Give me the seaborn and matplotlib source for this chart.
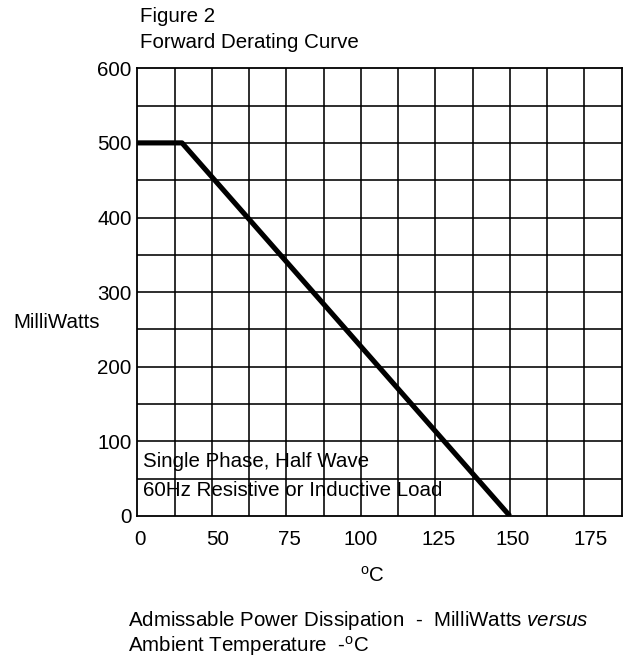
import matplotlib
matplotlib.use("Agg")
import matplotlib.pyplot as plt
import seaborn as sns
import numpy as np
import pandas as pd

# derating curve
temp_c = [25, 40, 150]
milliwatts = [500, 500, 0]

x_tick_pos = [26, 52, 76, 100, 126, 151, 177]
x_tick_labels = ["0", "50", "75", "100", "125", "150", "175"]
y_ticks = [0, 100, 200, 300, 400, 500, 600]

sns.set_style("white")
plt.rcParams["font.family"] = ["Liberation Sans", "DejaVu Sans"]
plt.rcParams["mathtext.fontset"] = "custom"
plt.rcParams["mathtext.rm"] = "Liberation Sans"
plt.rcParams["mathtext.it"] = "Liberation Sans:italic"
plt.rcParams["text.color"] = "black"

FS = 14.8

fig = plt.figure(figsize=(6.3, 6.59), dpi=100)
ax = fig.add_axes([0.2179, 0.2170, 0.7689, 0.6794])

df = pd.DataFrame({"temp": temp_c, "mw": milliwatts})
sns.lineplot(data=df, x="temp", y="mw", color="black", linewidth=3.7, ax=ax,
             solid_capstyle="butt", zorder=5)

ax.set_xlim(25, 187.5)
ax.set_ylim(0, 600)

# square grid: 12.5 degC by 50 mW cells
for gx in np.arange(37.5, 187.5, 12.5):
    ax.axvline(gx, color="black", linewidth=1.15, zorder=1)
for gy in np.arange(50, 600, 50):
    ax.axhline(gy, color="black", linewidth=1.15, zorder=1)

ax.set_xticks(x_tick_pos)
ax.set_xticklabels(x_tick_labels)
ax.set_yticks(y_ticks)
ax.tick_params(which="both", length=0, labelsize=FS, colors="black")
ax.tick_params(axis="x", pad=10)
ax.tick_params(axis="y", pad=4)
for s in ax.spines.values():
    s.set_color("black")
    s.set_linewidth(1.3)
ax.set_xlabel("")
ax.set_ylabel("")

ax.text(0.0124, 0.121, "Single Phase, Half Wave", transform=ax.transAxes,
        fontsize=FS, va="center", ha="left")
ax.text(0.0124, 0.058, "60Hz Resistive or Inductive Load", transform=ax.transAxes,
        fontsize=FS, va="center", ha="left")

W, H = 630, 659
def ftext(px, py, s, **kw):
    fig.text(px / W, 1 - py / H, s, fontsize=FS, **kw)

ftext(140, 17, "Figure 2", va="center", ha="left")
ftext(140, 43, "Forward Derating Curve", va="center", ha="left")
ftext(13, 322, "MilliWatts", va="center", ha="left")
ftext(372, 576, r"$^{\mathrm{o}}$C", va="center", ha="center")
ftext(128, 620, r"Admissable Power Dissipation  -  MilliWatts $\mathit{versus}$",
      va="center", ha="left")
ftext(128, 646, r"Ambient Temperature  -$^{\mathrm{o}}$C", va="center", ha="left")

fig.savefig("out.png", dpi=100)
